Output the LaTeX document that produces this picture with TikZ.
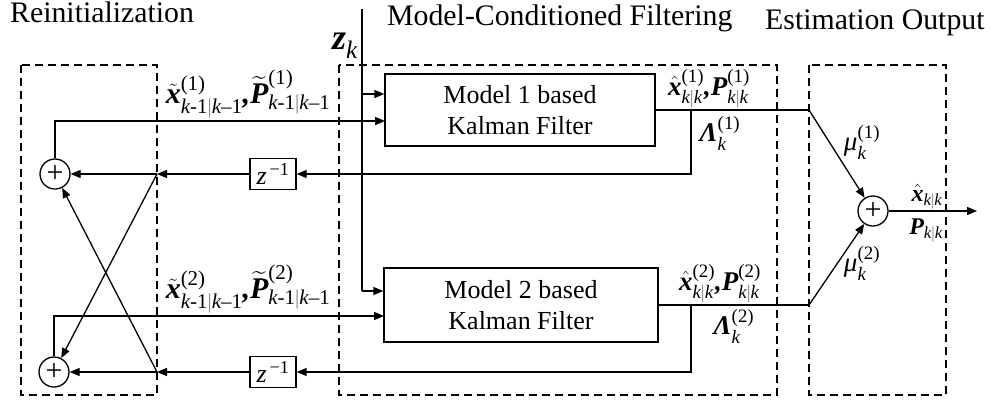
\documentclass[tikz,border=0pt]{standalone}
\usepackage{amsmath}
\usepackage{fontspec}
\setmainfont{Liberation Serif}
\usetikzlibrary{arrows.meta,calc}
\newcommand{\myb}[1]{\text{\normalfont\bfseries\itshape #1}}
\newcommand{\myi}[1]{\text{\normalfont\itshape #1}}
\newcommand{\myn}[1]{\text{\normalfont #1}}
\newcommand{\mybar}{\text{\normalfont\color{gray}|}}
\begin{document}
\begin{tikzpicture}[x=1pt,y=-1pt,
  line/.style={line width=1.3pt},
  arr/.style={line width=1.3pt,-{Triangle[length=10pt,width=8pt]}},
  grp/.style={draw,line width=1.2pt,dash pattern=on 8pt off 5pt},
  kf/.style={draw,line width=1.3pt,minimum width=270pt,minimum height=72pt,align=center,font=\fontsize{26}{31}\selectfont,inner sep=0pt},
  sumn/.style={draw,circle,line width=1.3pt,minimum size=30pt,inner sep=0pt,font=\fontsize{30}{30}\selectfont},
  dly/.style={draw,line width=1.3pt,minimum width=46pt,minimum height=31pt,inner sep=0pt,font=\fontsize{26}{30}\selectfont},
  ttl/.style={font=\fontsize{29.8}{34}\selectfont,inner sep=0pt,anchor=base west},
  lbl/.style={inner sep=0pt,font=\fontsize{30}{32}\selectfont},
  lbh/.style={inner sep=0pt,font=\fontsize{27}{30}\selectfont},
  lbs/.style={inner sep=0pt,font=\fontsize{24}{26}\selectfont}]
\useasboundingbox (0,0) rectangle (995,400);
% group boxes
\draw[grp] (21,65) rectangle (157,395);
\draw[grp] (339,65) rectangle (777,395);
\draw[grp] (809,65) rectangle (946,395);
% titles
\node[ttl] (tr) at (10,22) {Reinitialization};
\node[ttl] (tm) at (387,25) {Model-Conditioned Filtering};
\node[ttl] (te) at (765,29) {Estimation Output};
% main blocks
\node[kf] (m1) at (520,110) {Model 1 based\\Kalman Filter};
\node[kf,minimum width=274pt,minimum height=74pt] (m2) at (521,305) {Model 2 based\\Kalman Filter};
\node[dly] (d1) at (273,174) {$\myi{z}^{\,\myn{−1}}$};
\node[dly] (d2) at (273,372) {$\myi{z}^{\,\myn{−1}}$};
\node[sumn] (s1) at (55,174) {+};
\node[sumn] (s2) at (54,372) {+};
\node[sumn] (s3) at (873,211) {+};
% coordinates
\coordinate (zt) at (362,9);
\coordinate (zb) at (362,291);
\coordinate (zm) at (362,94);
\coordinate (j1) at (157,174);
\coordinate (j2) at (157,372);
\coordinate (b1) at (691,110);
\coordinate (b2) at (691,305);
\coordinate (o1) at (809,110);
\coordinate (o2) at (809,305);
\coordinate (f1) at (385,121);
\coordinate (f2) at (384,316);
\coordinate (out) at (977,211);
% z_k input
\node (zk) at (345,46) {\fontsize{36}{38}\selectfont$\myb{z}_{\myi{k}}$};
\draw[line] (zt) -- (zb);
\draw[arr] (zb) -- (m2.west |- zb);
\draw[arr] (zm) -- (m1.west |- zm);
% outputs
\draw[line] (m1.east) -- (o1);
\draw[line] (m2.east) -- (o2);
\draw[arr] (o1) -- (s3);
\draw[arr] (o2) -- (s3);
\draw[arr] (s3) -- (out);
% feedback
\draw[arr] (b1) |- (d1.east);
\draw[arr] (b2) |- (d2.east);
\draw[arr] (d1.west) -- (j1);
\draw[arr] (d2.west) -- (j2);
\draw[arr] (j1) -- (s1);
\draw[arr] (j2) -- (s2);
\draw[arr] (j1) -- (s2);
\draw[arr] (j2) -- (s1);
\draw[arr] (s1) |- (f1);
\draw[arr] (s2) |- (f2);
% labels
\node[lbl,anchor=south] (t1) at (248,118) {$\tilde{\myb{x}}^{\myn{(1)}}_{\myi{k}\myn{-1}\mybar\myi{k}\myn{--1}}\myb{,}\widetilde{\myb{P}}^{\myn{(1)}}_{\myi{k}\myn{-1}\mybar\myi{k}\myn{--1}}$};
\node[lbl,anchor=south] (t2) at (248,313) {$\tilde{\myb{x}}^{\myn{(2)}}_{\myi{k}\myn{-1}\mybar\myi{k}\myn{--1}}\myb{,}\widetilde{\myb{P}}^{\myn{(2)}}_{\myi{k}\myn{-1}\mybar\myi{k}\myn{--1}}$};
\node[lbh,anchor=south] (h1) at (709,108) {$\hat{\myb{x}}^{\myn{(1)}}_{\myi{k}\mybar\myi{k}}\myb{,}\myb{P}^{\myn{(1)}}_{\myi{k}\mybar\myi{k}}$};
\node[lbh,anchor=south] (h2) at (720,303) {$\hat{\myb{x}}^{\myn{(2)}}_{\myi{k}\mybar\myi{k}}\myb{,}\myb{P}^{\myn{(2)}}_{\myi{k}\mybar\myi{k}}$};
\node[lbh,anchor=north] (l1) at (720,116) {$\myb{Λ}^{\myn{(1)}}_{\myi{k}}$};
\node[lbh,anchor=north] (l2) at (734,309) {$\myb{Λ}^{\myn{(2)}}_{\myi{k}}$};
\node[lbh] (u1) at (862,142) {$\myi{μ}^{\myn{(1)}}_{\myi{k}}$};
\node[lbh] (u2) at (862,263) {$\myi{μ}^{\myn{(2)}}_{\myi{k}}$};
\node[lbs,anchor=south] (xo) at (927,209) {$\hat{\myb{x}}_{\myi{k}\mybar\myi{k}}$};
\node[lbs,anchor=north] (po) at (926,219) {$\myb{P}_{\myi{k}\mybar\myi{k}}$};
\end{tikzpicture}
\end{document}
